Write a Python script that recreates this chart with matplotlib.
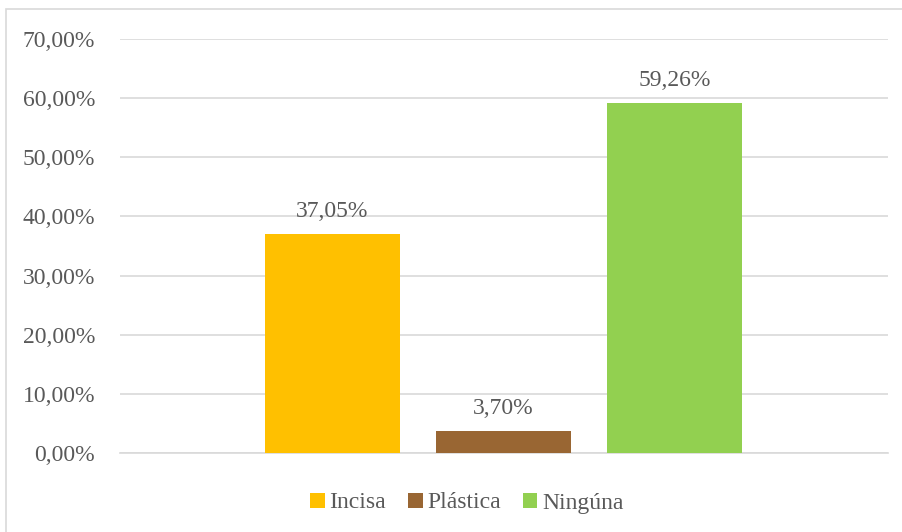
import matplotlib
matplotlib.use("Agg")
import matplotlib.pyplot as plt
from matplotlib.patches import Rectangle

series = ["Incisa", "Plástica", "Ningúna"]
values = [37.05, 3.70, 59.26]
labels = ["37,05%", "3,70%", "59,26%"]
colors = ["#FFC000", "#996633", "#92D050"]
yticks = [0, 10, 20, 30, 40, 50, 60, 70]
ytick_labels = ["0,00%", "10,00%", "20,00%", "30,00%", "40,00%", "50,00%", "60,00%", "70,00%"]

plt.rcParams['font.family'] = ['Liberation Serif', 'DejaVu Serif']
txt = "#595959"
fs = 17

fig = plt.figure(figsize=(9.03, 5.32), dpi=100)
ax = fig.add_axes([120/903, 79/532, 768/903, 414/532])

x = [0, 1, 2]
for xi, v, c, s in zip(x, values, colors, series):
    ax.bar(xi, v, width=0.79, color=c, label=s, zorder=3)
for xi, v, l in zip(x, values, labels):
    ax.text(xi, v + 2.0, l, ha="center", va="bottom", fontsize=fs, color=txt)

ax.set_xlim(-1.2427, 3.2485)
ax.set_ylim(0, 70)
ax.set_yticks(yticks)
ax.set_yticklabels(ytick_labels, fontsize=fs, color=txt)
ax.set_xticks([])
ax.tick_params(axis="y", length=0, pad=18)
ax.grid(axis="y", color="#d9d9d9", linewidth=1.2, zorder=0)
for sp in ["top", "right", "left"]:
    ax.spines[sp].set_visible(False)
ax.spines["bottom"].set_color("#d9d9d9")
ax.spines["bottom"].set_linewidth(1.2)

fig.legend(loc="center", bbox_to_anchor=(467/903, 1 - 503/532), ncol=3, frameon=False,
           fontsize=fs, handlelength=0.6, handleheight=0.6, handletextpad=0.2,
           columnspacing=0.95, labelcolor=txt)

fig.patches.append(Rectangle((6/903, -0.05), 1.2, 1.05 - 9/532, transform=fig.transFigure,
                             fill=False, edgecolor="#d9d9d9", linewidth=1.2))

fig.savefig("out.png", dpi=100)
